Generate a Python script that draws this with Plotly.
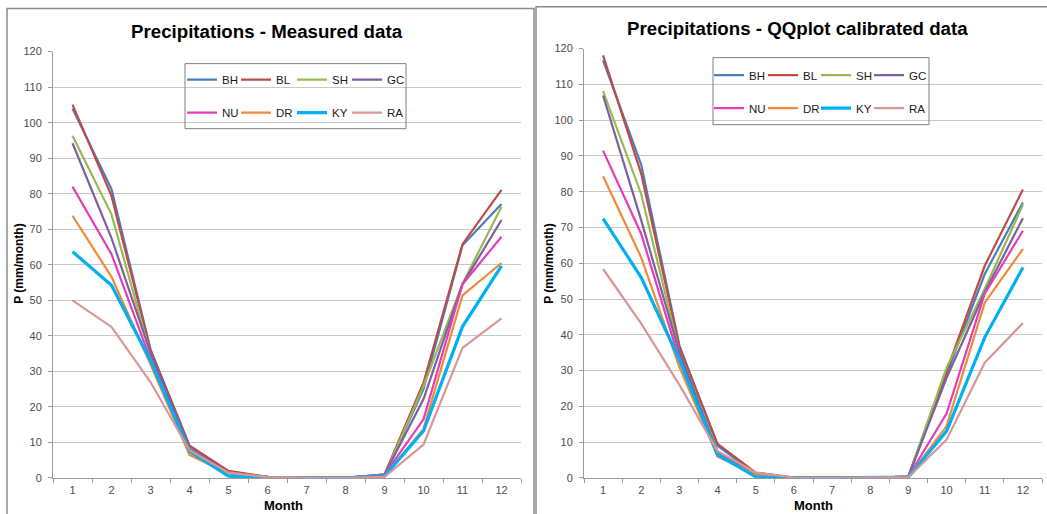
import plotly.graph_objects as go

W, H = 1047, 514

months = ["1", "2", "3", "4", "5", "6", "7", "8", "9", "10", "11", "12"]
stations = ["BH", "BL", "SH", "GC", "NU", "DR", "KY", "RA"]

measured_BH = [104.0, 81.3, 36.2, 9.0, 1.8, 0.3, 0.0, 0.0, 0.8, 25.0, 65.5, 77.1]
measured_BL = [105.1, 79.4, 35.9, 9.1, 2.0, 0.3, 0.0, 0.0, 1.0, 26.8, 65.8, 81.1]
measured_SH = [96.3, 74.2, 34.8, 8.0, 1.5, 0.3, 0.0, 0.0, 0.7, 25.8, 54.7, 76.3]
measured_GC = [94.2, 67.5, 35.2, 8.2, 1.5, 0.3, 0.0, 0.0, 0.9, 22.2, 54.5, 72.6]
measured_NU = [82.0, 63.0, 33.4, 7.5, 1.2, 0.3, 0.0, 0.0, 0.9, 16.5, 54.5, 67.9]
measured_DR = [73.8, 56.6, 32.0, 6.5, 1.2, 0.2, 0.0, 0.0, 0.5, 13.8, 51.4, 60.5]
measured_KY = [63.7, 54.2, 33.0, 7.5, 0.5, 0.1, 0.0, 0.0, 0.5, 13.2, 42.6, 59.7]
measured_RA = [50.0, 42.5, 27.0, 7.8, 1.5, 0.2, 0.0, 0.0, 0.3, 9.4, 36.6, 44.9]

calibrated_BH = [116.7, 87.5, 37.0, 9.0, 1.2, 0.1, 0.0, 0.0, 0.4, 29.0, 57.0, 77.0]
calibrated_BL = [118.1, 85.0, 36.5, 9.5, 1.5, 0.1, 0.0, 0.0, 0.4, 30.0, 59.3, 80.6]
calibrated_SH = [108.1, 79.3, 35.0, 7.5, 1.0, 0.1, 0.0, 0.0, 0.4, 30.8, 52.8, 76.4]
calibrated_GC = [106.9, 72.0, 35.0, 7.0, 1.0, 0.1, 0.0, 0.0, 0.4, 28.0, 51.9, 72.6]
calibrated_NU = [91.5, 68.2, 33.0, 6.0, 1.0, 0.1, 0.0, 0.0, 0.4, 18.0, 51.5, 69.1]
calibrated_DR = [84.3, 61.6, 31.0, 6.0, 1.0, 0.1, 0.0, 0.0, 0.3, 14.5, 49.0, 64.0]
calibrated_KY = [72.5, 56.0, 33.0, 6.5, 0.3, 0.0, 0.0, 0.0, 0.2, 13.1, 39.3, 58.8]
calibrated_RA = [58.4, 43.1, 26.0, 7.5, 1.5, 0.1, 0.0, 0.0, 0.2, 10.7, 32.2, 43.3]

y_ticks = [0, 10, 20, 30, 40, 50, 60, 70, 80, 90, 100, 110, 120]

measured = [measured_BH, measured_BL, measured_SH, measured_GC,
            measured_NU, measured_DR, measured_KY, measured_RA]
calibrated = [calibrated_BH, calibrated_BL, calibrated_SH, calibrated_GC,
              calibrated_NU, calibrated_DR, calibrated_KY, calibrated_RA]

colors = ["#4A7EBB", "#BE4B48", "#98B954", "#7D60A0",
          "#E53DBA", "#EE8A3A", "#00B0F0", "#D99694"]
widths = [2.2, 2.2, 2.2, 2.2, 2.2, 2.2, 3.2, 2.2]

FONT = "Liberation Sans, Arial, sans-serif"


def px(x):
    return x / W


def Y(y):
    # compensate the vertical scaling observed in the photographed page
    return (y - 5.4) / 0.976


def py(y):
    return 1 - Y(y) / H


# legend columns: column k holds stations k (row 1) and k+4 (row 2)
left_cols = [182, 236, 292, 347]
right_cols = [709, 763, 816, 869]

fig = go.Figure()

for i, name in enumerate(stations):
    fig.add_trace(go.Scatter(
        x=months, y=measured[i], name=name, mode="lines",
        line=dict(color=colors[i], width=widths[i]),
        xaxis="x", yaxis="y",
        legend="legend" if i % 4 == 0 else "legend%d" % (i % 4 + 1),
        legendgroup="m" + name,
    ))
for i, name in enumerate(stations):
    fig.add_trace(go.Scatter(
        x=months, y=calibrated[i], name=name, mode="lines",
        line=dict(color=colors[i], width=widths[i]),
        xaxis="x2", yaxis="y2",
        legend="legend%d" % (i % 4 + 5),
        legendgroup="c" + name,
    ))

axis_common = dict(showline=True, linecolor="#9A9A9A", linewidth=1,
                   ticks="outside", ticklen=4, tickcolor="#9A9A9A",
                   tickfont=dict(family=FONT, size=11, color="#4D4D4D"))

xcommon = dict(type="category", tickson="boundaries", showgrid=False,
               zeroline=False, range=[-0.5, 11.5], ticklabelstandoff=2,
               **axis_common)
ycommon = dict(range=[0, 120], tickvals=y_ticks, showgrid=True,
               gridcolor="#C8C8C8", gridwidth=1, zeroline=False,
               ticklabelstandoff=4, **axis_common)

legend_common = dict(orientation="v", xanchor="left", yanchor="middle",
                     bgcolor="rgba(0,0,0,0)", borderwidth=0,
                     font=dict(family=FONT, size=11.5, color="#1A1A1A"),
                     itemwidth=30, tracegroupgap=14,
                     itemclick=False, itemdoubleclick=False)

legends = {}
for k in range(4):
    key = "legend" if k == 0 else "legend%d" % (k + 1)
    legends[key] = dict(x=px(left_cols[k]), y=py(95.5), **legend_common)
    legends["legend%d" % (k + 5)] = dict(x=px(right_cols[k]), y=py(91),
                                         **legend_common)

fig.update_layout(
    width=W, height=H,
    margin=dict(l=0, r=0, t=0, b=0),
    paper_bgcolor="white", plot_bgcolor="white",
    showlegend=True,
    xaxis=dict(domain=[px(53), px(521)], anchor="y", **xcommon),
    yaxis=dict(domain=[py(477), py(51)], anchor="x", **ycommon),
    xaxis2=dict(domain=[px(584), px(1042)], anchor="y2", **xcommon),
    yaxis2=dict(domain=[py(477), py(48)], anchor="x2", **ycommon),
    **legends,
)

shapes = [
    dict(type="rect", xref="paper", yref="paper", x0=px(7), x1=px(534),
         y0=py(540), y1=py(8), line=dict(color="#8C8C8C", width=1.5)),
    dict(type="rect", xref="paper", yref="paper", x0=px(536), x1=px(1060),
         y0=py(540), y1=1 - 0.8 / H, line=dict(color="#8C8C8C", width=1.5)),
    dict(type="rect", xref="paper", yref="paper", x0=px(185), x1=px(406),
         y0=py(128), y1=py(63), line=dict(color="#7F7F7F", width=1),
         fillcolor="rgba(0,0,0,0)"),
    dict(type="rect", xref="paper", yref="paper", x0=px(713), x1=px(929),
         y0=py(124), y1=py(57), line=dict(color="#7F7F7F", width=1),
         fillcolor="rgba(0,0,0,0)"),
]
fig.update_layout(shapes=shapes)

title_font = dict(family=FONT, size=18.7, color="#000000")
label_font = dict(family=FONT, size=12, color="#000000")
month_font = dict(family=FONT, size=13, color="#000000")

annotations = [
    dict(text="<b>Precipitations - Measured data</b>", x=px(267), y=py(31),
         xref="paper", yref="paper", showarrow=False, font=title_font,
         xanchor="center", yanchor="middle"),
    dict(text="<b>Precipitations - QQplot calibrated data</b>", x=px(797),
         y=py(28), xref="paper", yref="paper", showarrow=False,
         font=title_font, xanchor="center", yanchor="middle"),
    dict(text="<b>P (mm/month)</b>", x=px(19), y=py(263), xref="paper",
         yref="paper", showarrow=False, font=label_font, textangle=-90,
         xanchor="center", yanchor="middle"),
    dict(text="<b>P (mm/month)</b>", x=px(549), y=py(263), xref="paper",
         yref="paper", showarrow=False, font=label_font, textangle=-90,
         xanchor="center", yanchor="middle"),
    dict(text="<b>Month</b>", x=px(283), y=py(505), xref="paper",
         yref="paper", showarrow=False, font=month_font,
         xanchor="center", yanchor="middle"),
    dict(text="<b>Month</b>", x=px(813), y=py(505), xref="paper",
         yref="paper", showarrow=False, font=month_font,
         xanchor="center", yanchor="middle"),
]
fig.update_layout(annotations=annotations)

fig.write_html("out.html")
